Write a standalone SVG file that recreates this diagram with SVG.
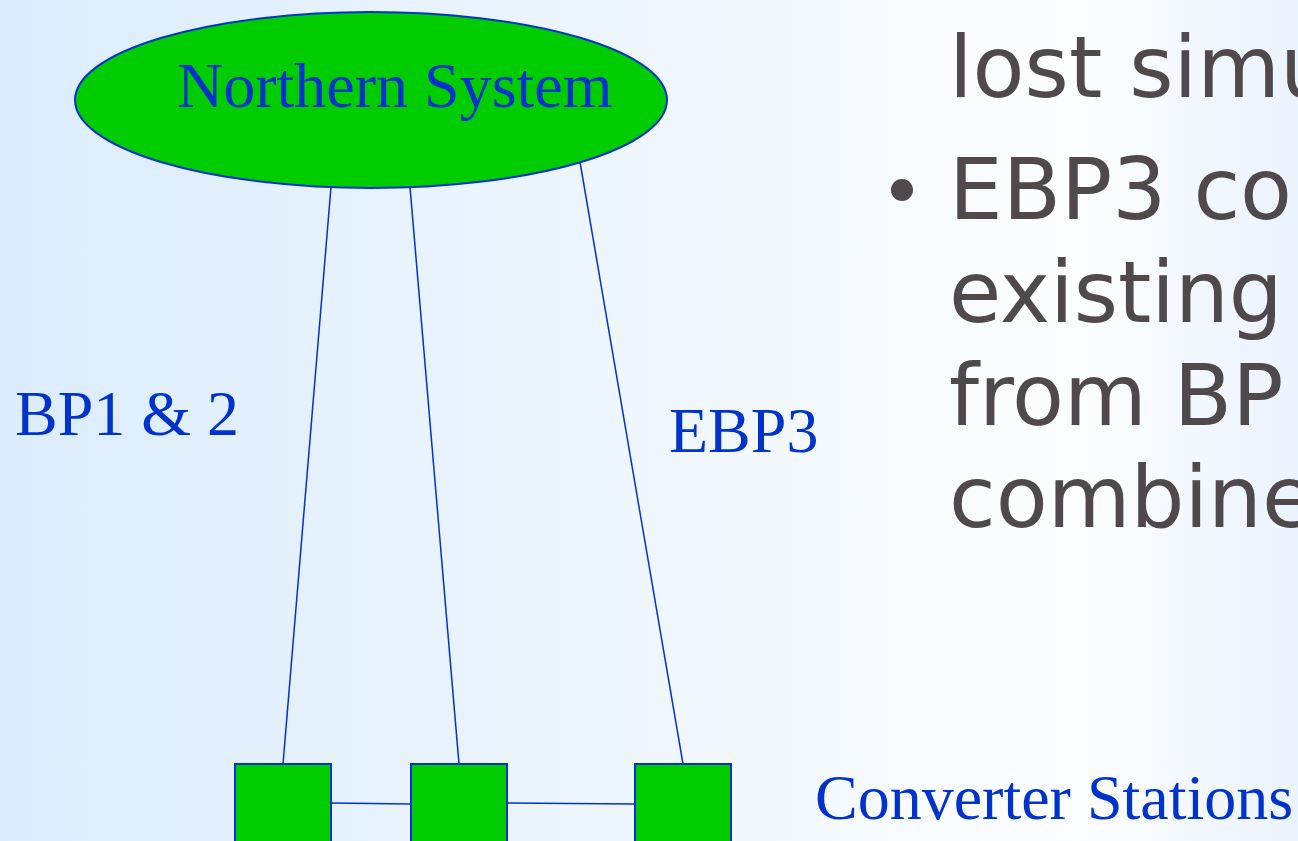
<svg xmlns="http://www.w3.org/2000/svg" width="1298" height="841" viewBox="0 0 1298 841">
  <defs>
    <linearGradient id="bg" x1="0" y1="0" x2="1298" y2="0" gradientUnits="userSpaceOnUse">
      <stop offset="0" stop-color="#dbecfc"/>
      <stop offset="0.83" stop-color="#fcfdff"/>
      <stop offset="1" stop-color="#ebf3fe"/>
    </linearGradient>
  </defs>
  <style>
    .node { fill: #00cc00; stroke: #0033cc; stroke-width: 2; }
    .conn { stroke: #0033cc; stroke-width: 1.5; fill: none; }
    .lbl { font-family: "Liberation Serif", "Times New Roman", serif; font-size: 64px; fill: #0033cc; }
    .body { font-family: "DejaVu Sans", Verdana, sans-serif; font-size: 85px; fill: #4f494b; }
  </style>
  <rect x="0" y="0" width="1298" height="841" fill="url(#bg)"/>

  <g id="connectors">
    <line class="conn" x1="331" y1="187" x2="283" y2="764"/>
    <line class="conn" x1="410" y1="187" x2="459" y2="764"/>
    <line class="conn" x1="580" y1="162" x2="683" y2="764"/>
    <line class="conn" x1="331" y1="803" x2="411" y2="804"/>
    <line class="conn" x1="507" y1="803" x2="635" y2="804"/>
  </g>

  <g id="northern-system">
    <ellipse class="node" cx="371" cy="100" rx="296" ry="88"/>
    <text class="lbl" x="177" y="107">Northern System</text>
  </g>

  <g id="station-1">
    <rect class="node" x="235" y="764" width="96" height="96"/>
  </g>
  <g id="station-2">
    <rect class="node" x="411" y="764" width="96" height="96"/>
  </g>
  <g id="station-3">
    <rect class="node" x="635" y="764" width="96" height="96"/>
  </g>

  <g id="labels">
    <text class="lbl" x="15" y="435">BP1 &amp; 2</text>
    <text class="lbl" x="669" y="452">EBP3</text>
    <text class="lbl" x="815" y="819">Converter Stations</text>
  </g>

  <g id="bullet-text">
    <text class="body" x="949" y="97">lost simu</text>
    <circle cx="902" cy="190" r="11" fill="#4f494b"/>
    <text class="body" x="949" y="219">EBP3 co</text>
    <text class="body" x="949" y="322">existing</text>
    <text class="body" x="949" y="425">from BP</text>
    <text class="body" x="949" y="527">combine</text>
  </g>
</svg>
